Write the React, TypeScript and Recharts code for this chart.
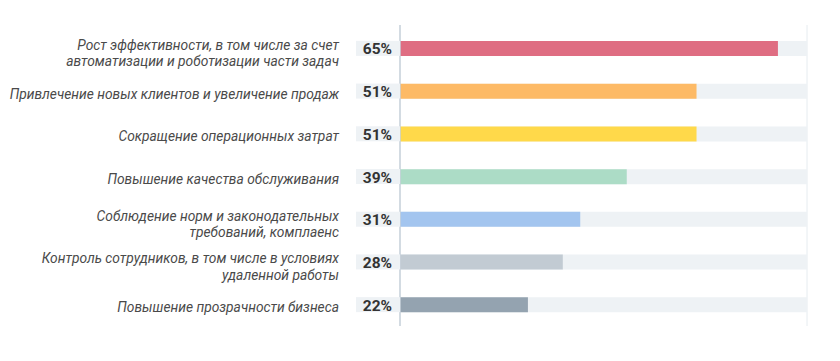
import { BarChart, Bar, XAxis, YAxis, CartesianGrid, Cell } from 'recharts';

const labels: string[][] = [
  ['Рост эффективности, в том числе за счет', 'автоматизации и роботизации части задач'],
  ['Привлечение новых клиентов и увеличение продаж'],
  ['Сокращение операционных затрат'],
  ['Повышение качества обслуживания'],
  ['Соблюдение норм и законодательных', 'требований, комплаенс'],
  ['Контроль сотрудников, в том числе в условиях', 'удаленной работы'],
  ['Повышение прозрачности бизнеса'],
];

const values = [65, 51, 51, 39, 31, 28, 22];

const colors = ['#df6d82', '#fdba66', '#ffd94a', '#acdcc6', '#a3c5ef', '#c2cbd3', '#94a3b0'];

const gridTicks = [0, 10, 20, 30, 40, 50, 60];

const data = labels.map((lines, i) => ({
  name: String(i),
  value: values[i],
}));

const FONT = 'Roboto, "Liberation Sans", Arial, sans-serif';

const CategoryTick = (props: any) => {
  const { y, payload } = props;
  const i = Number(payload.value);
  const lines = labels[i];
  const firstY = lines.length > 1 ? y + 1.5 : y + 7.5;
  return (
    <g>
      <text
        x={339}
        y={firstY}
        textAnchor="end"
        style={{ fontFamily: FONT, fontStyle: 'italic', fontSize: 13.8 }}
        fill="#4a4a4a"
      >
        {lines.map((line, k) => (
          <tspan key={k} x={339} dy={k === 0 ? 0 : 16.5}>
            {line}
          </tspan>
        ))}
      </text>
      <rect x={356} y={y - 7.5} width={44} height={15} fill="#eef2f5" />
      <text
        x={392}
        y={y + 6}
        textAnchor="end"
        style={{ fontFamily: FONT, fontWeight: 'bold', fontSize: 15.5 }}
        fill="#333"
      >
        {values[i]}%
      </text>
    </g>
  );
};

const App = () => {
  return (
    <div style={{ position: 'absolute', left: 0, top: 0, width: 840, height: 361, background: '#fff' }}>
      <BarChart
        width={840}
        height={361}
        data={data}
        layout="vertical"
        margin={{ top: 25, right: 33, bottom: 35, left: 0 }}
        barSize={15}
      >
        <CartesianGrid horizontal={false} stroke="#e6ecf0" strokeWidth={1} />
        <XAxis
          type="number"
          domain={[0, 70]}
          ticks={gridTicks}
          tick={false}
          tickLine={false}
          height={0}
          axisLine={{ stroke: '#d3dbe2', strokeWidth: 2 }}
        />
        <YAxis
          type="category"
          dataKey="name"
          width={400}
          tickLine={false}
          axisLine={{ stroke: '#c8d2db', strokeWidth: 1.5 }}
          padding={{ top: 2, bottom: 0 }}
          tick={<CategoryTick />}
          interval={0}
        />
        <Bar dataKey="value" background={{ fill: '#eef2f5' }} isAnimationActive={false}>
          {data.map((d, i) => (
            <Cell key={d.name} fill={colors[i]} />
          ))}
        </Bar>
      </BarChart>
    </div>
  );
};

export default App;
